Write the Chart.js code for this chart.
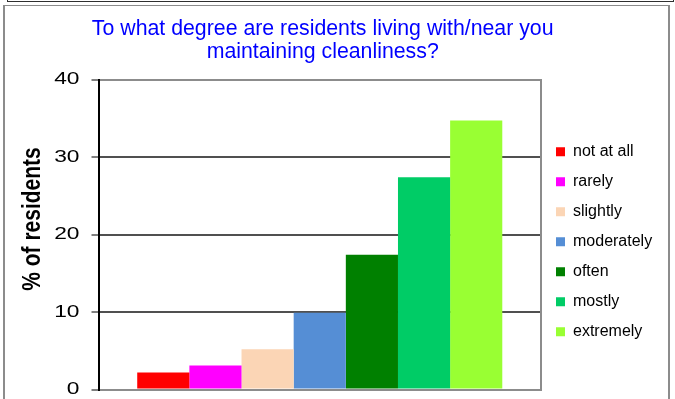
<!DOCTYPE html>
<html><head><meta charset="utf-8">
<script src="https://cdn.jsdelivr.net/npm/chart.js@4.4.0/dist/chart.umd.min.js"></script>
<style>
html,body{margin:0;padding:0;background:#fff;overflow:hidden;}
#wrap{position:relative;width:675px;height:399px;overflow:hidden;background:#fff;}
#c{position:absolute;left:0;top:0;}
.f1{position:absolute;left:7px;top:-20px;width:667px;height:22px;border:1px solid #303030;box-sizing:border-box;}
.f2{position:absolute;left:3px;top:5px;width:667px;height:440px;border:2px solid #8c8c8c;border-top-width:1px;box-sizing:border-box;}
</style></head><body>
<div id="wrap"><canvas id="c" width="675" height="399"></canvas><div class="f1"></div><div class="f2"></div></div>
<script>
// ---- data ----
const categories = [''];
const seriesLabels = ['not at all', 'rarely', 'slightly', 'moderately', 'often', 'mostly', 'extremely'];
const seriesValues = [2.2, 3.1, 5.2, 9.9, 17.4, 27.4, 34.7];
const seriesColors = ['#FF0000', '#FF00FF', '#FBD5B5', '#558ED5', '#008000', '#00CC66', '#99FF33'];
const yTickValues = [0, 10, 20, 30, 40];
const titleLines = ['To what degree are residents living with/near you', 'maintaining cleanliness?'];
const yAxisTitle = '% of residents';

// ---- layout constants ----
const FAMILY = '"Liberation Sans", Arial, Helvetica, sans-serif';
Chart.defaults.font.family = FAMILY;
const AREA_LEFT = 98.5, AREA_RIGHT = 541, AREA_TOP = 79.5, AREA_BOTTOM = 389.5;
const legendFont = 16, legendBox = 9, legendPad = 14;
const padRight = (675 - AREA_RIGHT) - 1; // legend capped to 1px, repositioned after layout

const titleSize = 21.3, titleLH = 1.1, titleTop = 17;
const titleBottom = AREA_TOP - (titleTop + 2 * titleSize * titleLH);

const datasets = seriesLabels.map((lab, i) => ({
  label: lab,
  data: [seriesValues[i]],
  backgroundColor: seriesColors[i],
  borderWidth: 0
}));

const tweak = {
  id: 'tweak',
  afterLayout(chart) {
    const t = chart.titleBlock;
    if (t) { const cx = 322.7, w = 640; t.left = cx - w / 2; t.right = cx + w / 2; t.width = w; }
    const lg = chart.legend;
    if (lg) { lg.left = 542; lg.right = 668; lg.top = 129.8; lg.bottom = 129.8 + 260; lg.width = lg.right - lg.left; lg.height = 260; }
    const ys = chart.scales.y;
    if (ys && !ys._patched) {
      ys._patched = true;
      const oT = ys.drawTitle, oL = ys.drawLabels;
      ys.drawTitle = function (...a) {
        const ctx = this.ctx; ctx.save();
        ctx.translate(32.4, -15.5); ctx.scale(1.25, 1); ctx.translate(-32.4, 0);
        oT.apply(this, a); ctx.restore();
      };
      ys.drawLabels = function (...a) {
        const ctx = this.ctx; const x0 = this.right - 7 - 12; ctx.save();
        ctx.translate(x0, 0); ctx.scale(1.38, 1); ctx.translate(-x0, 0);
        oL.apply(this, a); ctx.restore();
      };
    }
  }
};

new Chart(document.getElementById('c'), {
  type: 'bar',
  data: { labels: categories, datasets },
  plugins: [tweak],
  options: {
    responsive: false,
    devicePixelRatio: 1,
    animation: false,
    events: [],
    layout: { padding: { left: 0, right: padRight, top: 0, bottom: 0 } },
    datasets: { bar: { categoryPercentage: 0.825, barPercentage: 1 } },
    plugins: {
      tooltip: { enabled: false },
      title: {
        display: true,
        text: titleLines,
        color: '#0000FF',
        font: { size: titleSize, weight: 'normal', lineHeight: titleLH },
        padding: { top: titleTop, bottom: titleBottom }
      },
      legend: {
        display: true,
        position: 'right',
        align: 'start',
        fullSize: false,
        maxWidth: 1,
        labels: {
          color: '#000',
          font: { size: legendFont },
          boxWidth: legendBox,
          boxHeight: legendBox,
          padding: legendPad
        }
      }
    },
    scales: {
      x: {
        type: 'category',
        grid: { drawOnChartArea: false, drawTicks: false },
        ticks: { display: false },
        border: { display: true, color: '#8c8c8c', width: 2 },
        afterFit: s => { s.height = 399 - AREA_BOTTOM; s.paddingLeft = 0; s.paddingRight = 0; }
      },
      y: {
        min: 0, max: 40,
        afterBuildTicks: s => { s.ticks = yTickValues.map(v => ({ value: v })); },
        ticks: { color: '#000', font: { size: 16.5 }, padding: 12 },
        grid: {
          color: c => (c.tick && (c.tick.value === 40 || c.tick.value === 0)) ? '#8c8c8c' : '#505050',
          lineWidth: 2,
          tickLength: 7,
          tickColor: '#000',
          tickWidth: 1
        },
        border: { display: true, color: '#000', width: 2 },
        title: {
          display: true,
          text: yAxisTitle,
          color: '#000',
          font: { size: 21, weight: 'bold' },
          padding: { top: 19.8, bottom: 0 }
        },
        afterFit: s => { s.width = AREA_LEFT; s.paddingTop = 0; s.paddingBottom = 0; }
      },
      yR: {
        type: 'linear',
        position: 'right',
        grid: { drawOnChartArea: false, drawTicks: false },
        ticks: { display: false },
        border: { display: true, color: '#8c8c8c', width: 2 },
        afterFit: s => { s.width = 0; s.paddingTop = 0; s.paddingBottom = 0; }
      }
    }
  }
});
</script>
</body></html>
